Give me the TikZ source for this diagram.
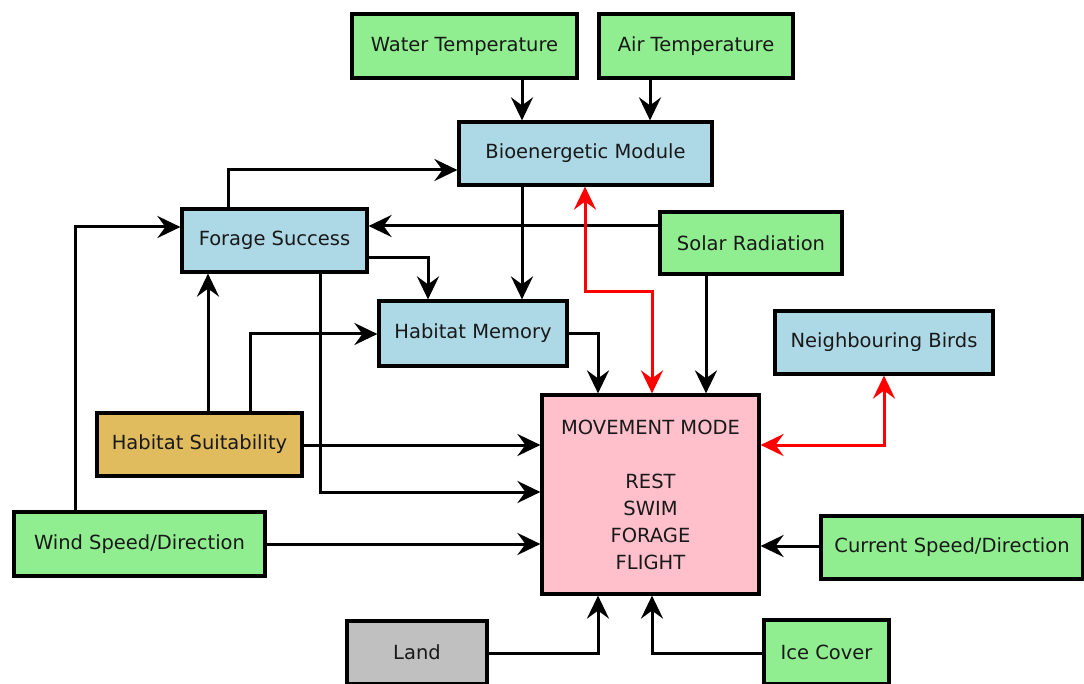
\documentclass[tikz,border=0pt]{standalone}
\usepackage{fontspec}
\setmainfont{DejaVu Sans}
\usetikzlibrary{arrows.meta}

\definecolor{envgreen}{HTML}{90EE90}
\definecolor{modblue}{HTML}{ADD8E6}
\definecolor{suitgold}{HTML}{E0BC5F}
\definecolor{modepink}{HTML}{FFC0CB}
\definecolor{landgray}{HTML}{C0C0C0}
\definecolor{linkred}{HTML}{FF0000}

\tikzset{
  box/.style={draw=black, line width=3.2pt, rectangle, align=center,
    font=\fontsize{19.5}{27}\selectfont, text=black!90},
  env/.style={box, fill=envgreen},
  module/.style={box, fill=modblue},
  tip/.style={},
  arr/.style={draw=black, line width=3pt,
    -{Stealth[length=23pt, width=22pt, inset=8pt]}},
  twoway/.style={draw=linkred, line width=3pt,
    {Stealth[length=23pt, width=22pt, inset=8pt]}-{Stealth[length=23pt, width=22pt, inset=8pt]}}
}

\begin{document}
\begin{tikzpicture}[x=1pt, y=-1pt]
\useasboundingbox (0,0) rectangle (1084,684);
\fill[white] (0,0) rectangle (1084,684);

% boxes
\node[env, minimum width=225pt, minimum height=64pt] (wt) at (464.5,46) {Water Temperature};
\node[env, minimum width=194pt, minimum height=64pt] (at) at (696,46) {Air Temperature};
\node[module, minimum width=253pt, minimum height=63pt] (bio) at (585.5,153.5) {Bioenergetic Module};
\node[module, minimum width=185pt, minimum height=63pt] (fs) at (274.5,240.5) {Forage Success};
\node[env, minimum width=182pt, minimum height=62pt] (sr) at (751,243) {Solar Radiation};
\node[module, minimum width=188pt, minimum height=65pt] (hm) at (473,333.5) {Habitat Memory};
\node[module, minimum width=218pt, minimum height=63pt] (nb) at (884,342.5) {Neighbouring Birds};
\node[box, fill=suitgold, minimum width=205pt, minimum height=63pt] (hs) at (199.5,444.5) {Habitat Suitability};
\node[box, fill=modepink, minimum width=217pt, minimum height=199pt] (mm) at (650.5,494.5)
  {MOVEMENT MODE\\[27pt]REST\\SWIM\\FORAGE\\FLIGHT};
\node[env, minimum width=251pt, minimum height=64pt] (wind) at (139.5,544) {Wind Speed/Direction};
\node[env, minimum width=262pt, minimum height=63pt] (cur) at (952,547.5) {Current Speed/Direction};
\node[box, fill=landgray, minimum width=140pt, minimum height=63pt] (land) at (417,652.5) {Land};
\node[env, minimum width=125pt, minimum height=64pt] (ice) at (826.5,652) {Ice Cover};

% temperatures into the bioenergetic module
\draw[arr] (wt.south -| 522,0) -- (bio.north -| 522,0);
\draw[arr] (at.south -| 650,0) -- (bio.north -| 650,0);

% links around forage success
\draw[arr] (fs.north -| 228,0) |- (bio.west |- 0,170);
\draw[arr] (sr.west |- 0,226) -- (fs.east |- 0,226);
\draw[arr] (fs.east |- 0,258) -| (hm.north -| 428,0);
\draw[arr] (bio.south -| 522,0) -- (hm.north -| 522,0);
\draw[arr] (fs.south -| 320,0) |- (mm.west |- 0,492);

% habitat suitability
\draw[arr] (hs.north -| 208,0) -- (fs.south -| 208,0);
\draw[arr] (hs.north -| 250,0) |- (hm.west |- 0,334);
\draw[arr] (hs.east |- 0,445) -- (mm.west |- 0,445);

% wind
\draw[arr] (wind.north -| 75,0) |- (fs.west |- 0,227);
\draw[arr] (wind.east |- 0,544) -- (mm.west |- 0,544);

% inputs to movement mode from above
\draw[arr] (hm.east |- 0,334) -| (mm.north -| 598,0);
\draw[twoway] (bio.south -| 585,0) -- ++(0,105) -| (mm.north -| 652,0);
\draw[arr] (sr.south -| 706,0) -- (mm.north -| 706,0);

% right-hand inputs
\draw[twoway] (nb.south) |- (mm.east |- 0,445);
\draw[arr] (cur.west |- 0,546) -- (mm.east |- 0,546);

% inputs from below
\draw[arr] (land.east |- 0,653) -| (mm.south -| 598,0);
\draw[arr] (ice.west |- 0,653) -| (mm.south -| 652,0);
\end{tikzpicture}
\end{document}
